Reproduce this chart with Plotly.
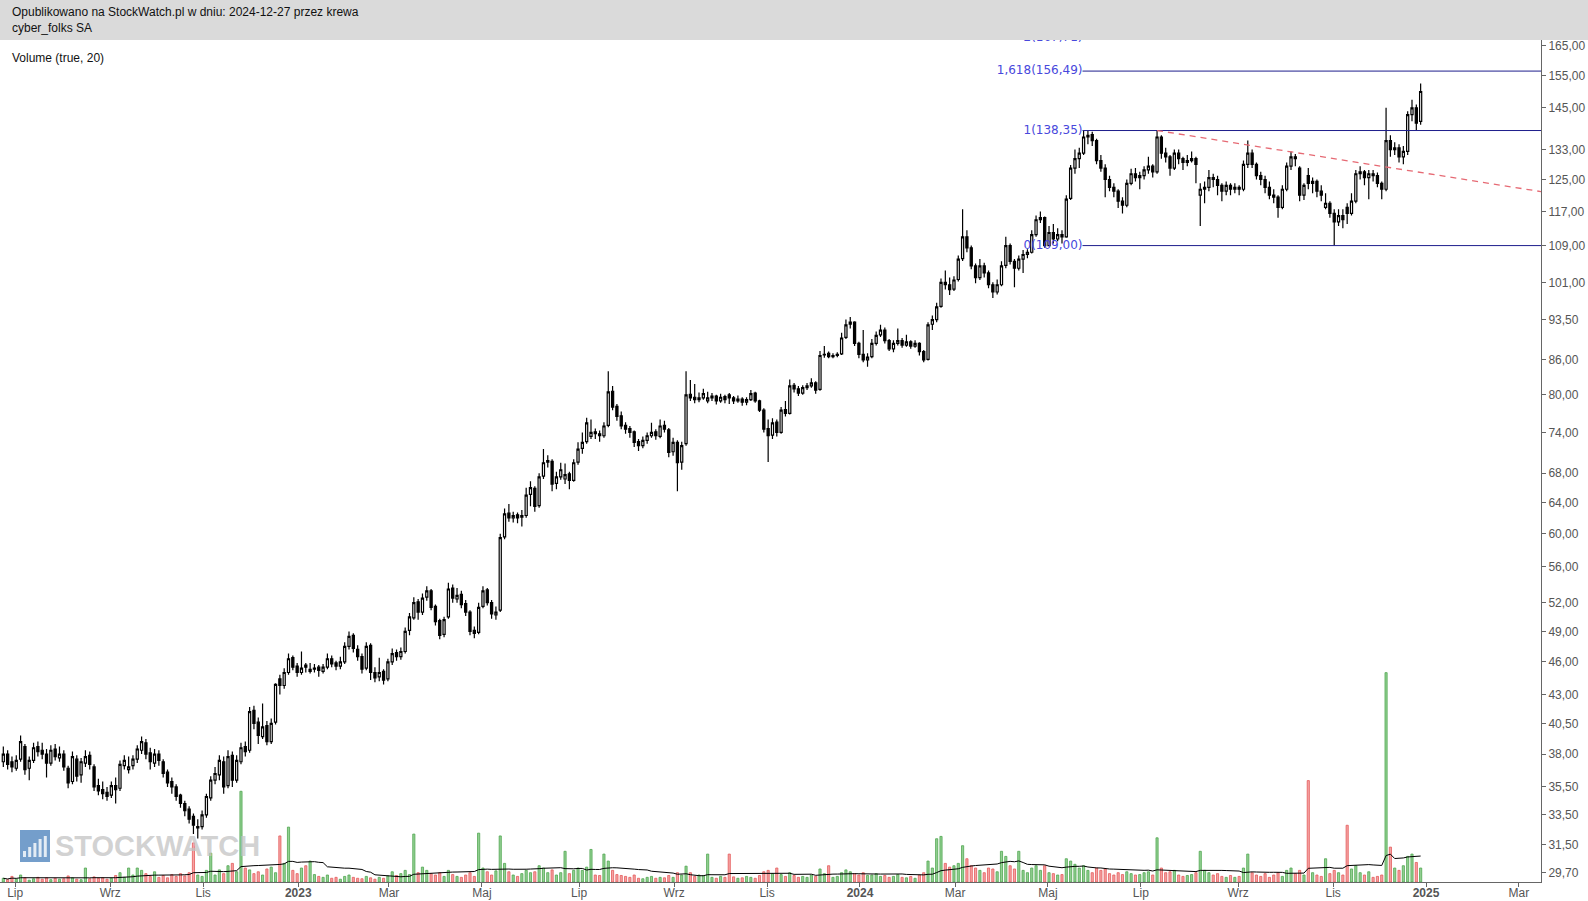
import numpy as np
import pandas as pd
import plotly.graph_objects as go

# ---------------- data ----------------
# one candle every second trading day, last one on 2024-12-27
dates = pd.bdate_range(end="2024-12-27", periods=657)[::2] + pd.Timedelta(hours=12)

opens = [
    37.4, 38.0, 37.4, 36.9, 37.6, 38.6, 36.9, 37.5, 38.6, 38.3,
    38.0, 37.3, 38.4, 37.7, 38.0, 36.9, 35.9, 37.6, 36.4, 37.3,
    37.9, 37.0, 35.6, 35.3, 35.1, 34.9, 35.6, 35.4, 37.1, 36.8,
    37.1, 37.6, 38.3, 38.9, 38.1, 37.3, 38.0, 37.4, 36.6, 35.9,
    35.5, 34.9, 34.3, 33.9, 33.4, 32.6, 32.7, 33.5, 34.7, 36.0,
    36.4, 37.4, 35.6, 37.9, 36.0, 37.4, 38.6, 38.3, 41.6, 40.6,
    39.4, 40.3, 39.0, 40.6, 44.4, 43.8, 45.0, 46.4, 45.6, 45.0,
    45.7, 45.1, 45.3, 45.5, 45.1, 45.5, 46.3, 45.9, 45.6, 46.0,
    47.5, 48.6, 47.2, 46.5, 45.4, 47.6, 45.0, 44.6, 45.1, 44.4,
    46.0, 46.9, 46.5, 47.0, 49.1, 50.4, 52.1, 51.0, 52.6, 53.3,
    51.6, 50.1, 48.7, 50.5, 53.6, 52.4, 52.9, 51.9, 51.0, 49.1,
    48.9, 51.6, 53.4, 52.0, 50.7, 51.2, 59.6, 62.6, 62.0, 62.4,
    62.1, 62.3, 65.1, 65.9, 63.6, 67.6, 69.6, 69.7, 66.6, 67.5,
    67.2, 67.9, 67.0, 69.6, 71.6, 72.6, 73.4, 74.1, 73.8, 73.5,
    75.1, 80.6, 78.1, 76.6, 75.1, 74.6, 74.1, 72.6, 72.0, 72.8,
    73.5, 74.1, 73.4, 75.1, 74.4, 71.1, 72.5, 69.6, 72.3, 80.1,
    79.6, 79.2, 79.5, 79.0, 79.5, 79.8, 79.0, 79.7, 80.0, 79.5,
    79.0, 79.3, 78.8, 79.2, 80.3, 79.0, 77.5, 74.6, 73.6, 75.6,
    74.0, 77.6, 77.0, 81.6, 81.0, 80.3, 81.2, 81.5, 82.0, 80.9,
    86.9, 87.2, 86.6, 86.8, 87.1, 90.1, 92.6, 93.0, 89.0, 87.0,
    86.0, 86.6, 89.0, 90.6, 91.5, 89.5, 88.0, 89.0, 89.5, 88.7,
    89.3, 88.5, 89.0, 87.5, 86.1, 92.6, 93.5, 96.1, 101.0, 100.5,
    99.6, 101.6, 106.1, 111.0, 108.5, 104.5, 102.0, 104.5, 103.0, 100.5,
    99.0, 100.5, 104.6, 109.0, 105.5, 104.0, 106.0, 107.0, 107.5, 111.5,
    115.0, 115.5, 109.0, 112.0, 110.5, 111.5, 111.0, 120.2, 128.0, 130.5,
    132.0, 136.5, 137.2, 135.5, 130.0, 128.0, 125.0, 123.0, 122.0, 119.5,
    118.5, 124.0, 126.5, 125.5, 126.0, 127.5, 128.5, 127.0, 136.5, 132.0,
    131.0, 128.0, 132.0, 130.5, 129.5, 130.0, 130.5, 121.0, 122.5, 123.0,
    125.5, 125.0, 123.5, 122.0, 123.5, 122.5, 123.0, 122.5, 129.0, 132.0,
    129.0, 126.0, 125.0, 123.0, 121.0, 120.5, 118.0, 122.5, 128.5, 131.0,
    128.0, 121.0, 126.0, 124.0, 124.5, 122.0, 118.0, 119.0, 116.5, 114.5,
    116.0, 118.0, 116.5, 119.5, 126.5, 127.0, 125.5, 126.5, 126.0, 124.0,
    122.5, 135.5, 133.0, 133.5, 131.0, 132.5, 143.0, 145.0, 141.0,
]

highs = [
    38.6, 38.3, 37.8, 37.9, 39.5, 38.8, 37.8, 38.9, 39.0, 38.9,
    38.4, 38.7, 38.8, 38.6, 38.3, 37.1, 38.2, 37.9, 37.7, 38.3,
    38.2, 37.2, 36.1, 35.9, 35.5, 35.9, 36.2, 37.5, 37.9, 37.8,
    37.9, 38.7, 39.4, 39.2, 38.5, 38.4, 38.3, 37.6, 36.8, 36.2,
    35.7, 35.0, 34.5, 34.1, 33.6, 33.2, 33.8, 35.0, 36.3, 37.0,
    37.9, 37.8, 38.3, 38.2, 37.9, 38.9, 39.0, 41.9, 42.0, 41.0,
    42.2, 40.7, 40.9, 44.0, 44.8, 45.4, 46.8, 46.6, 45.9, 47.0,
    45.9, 45.9, 45.8, 45.7, 45.8, 46.8, 46.6, 46.1, 46.5, 47.9,
    49.0, 48.8, 47.6, 46.8, 47.9, 47.8, 45.5, 46.4, 45.3, 46.3,
    47.3, 47.2, 47.4, 49.4, 50.9, 52.6, 52.4, 53.0, 53.8, 53.5,
    51.8, 50.3, 50.5, 54.2, 54.0, 53.6, 53.3, 52.3, 51.2, 49.5,
    52.0, 53.8, 53.6, 52.3, 51.6, 60.0, 63.2, 63.8, 62.8, 62.7,
    63.0, 66.0, 66.9, 66.2, 68.0, 71.5, 70.6, 70.0, 68.2, 69.5,
    69.4, 68.2, 70.0, 72.5, 74.0, 76.3, 76.0, 74.6, 74.3, 75.6,
    84.0, 81.5, 78.5, 77.3, 75.6, 75.0, 74.3, 73.0, 73.4, 74.0,
    75.5, 74.5, 76.0, 75.8, 74.7, 73.2, 72.8, 72.6, 84.0, 82.5,
    81.8, 80.4, 81.0, 80.5, 80.3, 80.0, 80.2, 80.0, 80.3, 79.8,
    79.9, 79.6, 79.6, 80.8, 80.5, 79.2, 77.8, 76.0, 76.2, 76.0,
    78.0, 79.0, 82.6, 82.0, 81.5, 81.6, 82.0, 82.8, 82.3, 87.6,
    88.5, 87.5, 87.2, 87.4, 91.0, 93.5, 94.0, 93.2, 89.3, 91.5,
    87.2, 89.8, 91.2, 92.5, 92.0, 89.8, 89.6, 91.8, 90.0, 90.6,
    89.6, 89.6, 89.2, 87.8, 93.0, 94.3, 96.8, 101.8, 103.5, 102.0,
    102.3, 106.8, 117.5, 112.5, 109.0, 105.0, 106.0, 105.2, 103.5, 101.0,
    101.6, 105.5, 111.0, 109.5, 106.0, 106.8, 108.0, 108.2, 112.5, 116.0,
    117.0, 115.8, 113.5, 114.0, 113.0, 112.5, 121.0, 128.8, 133.0, 133.5,
    138.35, 138.3, 138.0, 136.0, 131.5, 129.0, 126.0, 124.0, 122.5, 120.5,
    125.0, 127.8, 128.0, 127.0, 128.5, 131.0, 129.0, 138.3, 137.0, 133.5,
    131.5, 133.0, 133.0, 131.0, 131.5, 132.5, 131.0, 124.0, 124.5, 127.5,
    126.5, 126.0, 124.0, 124.5, 124.0, 124.0, 123.5, 130.0, 135.5, 133.0,
    129.5, 127.0, 126.0, 124.5, 122.5, 121.0, 123.5, 129.5, 132.5, 131.8,
    128.5, 124.0, 128.0, 125.5, 125.0, 123.5, 121.5, 119.5, 117.5, 117.5,
    117.5, 119.0, 121.5, 127.5, 128.5, 127.5, 127.5, 127.5, 126.8, 124.5,
    145.0, 137.0, 135.0, 134.5, 134.0, 144.0, 147.5, 146.0, 152.5,
]

lows = [
    37.0, 36.8, 36.6, 36.7, 37.4, 36.4, 36.0, 37.3, 37.8, 37.6,
    36.2, 37.1, 37.5, 37.4, 36.7, 35.4, 35.7, 35.9, 35.8, 37.0,
    36.8, 35.2, 34.9, 34.6, 34.5, 34.7, 34.3, 35.2, 36.8, 36.5,
    36.8, 37.3, 38.0, 37.6, 36.8, 37.0, 37.1, 36.2, 35.5, 35.0,
    34.5, 34.0, 33.4, 32.9, 32.2, 31.9, 32.5, 33.3, 34.5, 35.7,
    36.0, 35.0, 35.4, 35.5, 35.8, 37.2, 37.8, 38.1, 40.0, 38.8,
    39.2, 38.7, 38.8, 40.4, 43.0, 43.5, 44.8, 45.2, 44.6, 44.8,
    45.0, 44.9, 45.0, 44.6, 44.9, 45.3, 45.5, 45.2, 45.3, 45.8,
    47.2, 46.9, 46.1, 44.9, 45.2, 44.3, 44.1, 44.2, 43.9, 44.2,
    45.7, 46.1, 46.2, 46.8, 48.6, 50.2, 50.2, 50.7, 52.2, 51.2,
    49.6, 48.2, 48.4, 50.3, 52.0, 52.0, 51.4, 50.6, 48.6, 48.3,
    48.7, 51.4, 51.7, 50.3, 50.2, 51.0, 59.3, 61.5, 61.4, 61.3,
    60.9, 62.0, 63.5, 62.8, 63.3, 67.2, 68.8, 65.5, 65.8, 67.1,
    66.5, 65.8, 66.8, 69.2, 70.8, 72.3, 73.0, 73.0, 72.6, 73.2,
    74.8, 77.5, 75.8, 74.5, 73.8, 73.2, 71.8, 71.2, 71.6, 72.3,
    73.2, 72.9, 73.1, 74.0, 70.3, 70.5, 65.5, 68.5, 72.0, 79.0,
    78.6, 78.8, 79.2, 78.6, 79.0, 78.4, 78.7, 78.6, 78.5, 78.5,
    78.7, 78.2, 78.3, 79.0, 78.7, 77.2, 74.0, 69.6, 73.0, 73.4,
    73.8, 76.5, 76.8, 80.4, 79.8, 80.0, 80.8, 81.2, 80.2, 80.7,
    86.4, 86.3, 86.3, 86.5, 86.9, 89.8, 91.8, 88.5, 86.3, 85.6,
    84.8, 86.3, 88.6, 90.2, 89.0, 87.6, 87.4, 88.6, 88.2, 88.4,
    88.0, 88.2, 86.8, 85.6, 85.9, 91.5, 93.0, 95.8, 99.5, 98.4,
    99.2, 101.2, 105.6, 107.5, 103.8, 100.8, 101.5, 102.0, 99.8, 97.8,
    98.5, 100.2, 104.0, 104.8, 100.0, 103.5, 103.0, 106.2, 107.2, 111.0,
    114.2, 108.5, 109.0, 109.5, 110.0, 109.5, 110.8, 119.8, 126.5, 128.0,
    131.5, 134.5, 134.0, 129.0, 127.0, 120.5, 122.0, 120.5, 117.8, 116.5,
    118.0, 123.5, 124.5, 122.5, 125.0, 126.5, 125.5, 126.5, 130.5, 129.5,
    126.0, 127.5, 129.0, 127.5, 128.5, 129.5, 124.0, 113.5, 119.0, 122.0,
    123.0, 121.0, 119.5, 121.0, 121.0, 121.5, 121.0, 122.0, 128.0, 128.0,
    125.0, 123.5, 121.5, 120.0, 119.0, 115.5, 117.5, 122.0, 127.5, 128.5,
    119.5, 119.8, 122.5, 121.5, 120.5, 119.5, 117.5, 115.5, 109.0, 113.5,
    113.0, 114.0, 116.0, 119.0, 125.0, 123.5, 120.0, 124.5, 123.0, 120.0,
    122.0, 131.0, 131.5, 129.5, 129.0, 131.5, 141.0, 138.5, 140.0,
]

closes = [
    38.0, 37.2, 37.0, 37.5, 39.0, 36.8, 37.5, 38.5, 38.2, 38.0,
    37.3, 38.3, 37.8, 38.0, 37.0, 35.8, 37.8, 36.3, 37.4, 37.8,
    37.2, 35.5, 35.2, 35.0, 34.8, 35.6, 35.3, 37.2, 37.5, 37.0,
    37.6, 38.4, 39.0, 38.0, 37.4, 38.0, 37.5, 36.5, 35.8, 35.5,
    34.8, 34.3, 33.8, 33.2, 32.8, 32.7, 33.5, 34.8, 36.0, 36.5,
    37.5, 35.5, 37.8, 36.0, 37.5, 38.5, 38.2, 41.5, 40.5, 39.5,
    40.2, 39.0, 40.5, 43.9, 43.8, 45.0, 46.3, 45.5, 45.0, 45.4,
    45.5, 45.3, 45.4, 45.2, 45.5, 46.3, 45.8, 45.6, 46.0, 47.5,
    48.5, 47.3, 46.5, 45.3, 47.5, 45.0, 44.5, 45.0, 44.3, 46.0,
    46.8, 46.5, 47.0, 49.0, 50.5, 52.0, 51.0, 52.5, 53.3, 51.5,
    50.0, 48.6, 50.2, 53.5, 52.5, 52.8, 51.8, 51.0, 49.0, 48.8,
    51.5, 53.3, 52.0, 50.8, 51.0, 59.5, 62.5, 62.0, 62.3, 62.0,
    62.3, 65.0, 66.0, 63.5, 67.5, 69.5, 69.8, 66.5, 67.5, 68.5,
    67.8, 67.0, 69.5, 71.5, 72.5, 75.5, 74.0, 73.8, 73.5, 75.0,
    80.5, 78.0, 76.5, 75.0, 74.5, 74.0, 72.5, 72.0, 72.8, 73.5,
    74.0, 73.5, 75.0, 74.5, 71.0, 72.5, 69.5, 72.0, 80.0, 79.5,
    79.2, 79.5, 80.2, 79.5, 79.8, 79.0, 79.6, 79.2, 79.5, 79.0,
    79.3, 78.8, 79.2, 80.2, 79.0, 77.5, 74.5, 73.5, 75.5, 74.0,
    77.5, 77.0, 81.5, 81.0, 80.3, 81.2, 81.5, 82.0, 80.8, 86.8,
    87.0, 86.6, 86.8, 87.0, 90.0, 92.5, 93.0, 89.0, 87.0, 86.0,
    86.5, 89.0, 90.5, 91.5, 89.5, 88.0, 89.0, 89.5, 88.7, 89.3,
    88.5, 89.0, 87.5, 86.0, 92.5, 93.5, 96.0, 101.0, 100.5, 99.5,
    101.5, 106.0, 111.0, 108.5, 104.5, 102.0, 104.5, 103.0, 100.5, 99.0,
    100.5, 104.5, 109.0, 105.5, 104.0, 106.0, 107.0, 107.5, 111.5, 115.0,
    115.5, 109.0, 112.0, 110.5, 111.5, 111.0, 120.0, 128.0, 130.5, 132.0,
    136.5, 137.0, 135.5, 130.0, 128.0, 125.0, 123.0, 122.0, 119.5, 118.5,
    124.0, 126.5, 125.5, 126.0, 127.5, 128.5, 127.0, 136.5, 132.0, 131.0,
    128.0, 132.0, 130.5, 129.5, 130.0, 130.5, 129.0, 122.5, 123.0, 125.5,
    125.0, 123.5, 122.0, 123.5, 122.5, 123.0, 122.5, 129.0, 132.0, 129.0,
    126.0, 125.0, 123.0, 121.0, 120.5, 118.0, 122.5, 128.5, 131.0, 130.5,
    121.0, 123.5, 124.0, 124.5, 122.0, 121.0, 119.0, 116.5, 114.5, 116.0,
    115.0, 116.5, 119.5, 126.5, 127.0, 125.5, 126.5, 126.0, 124.0, 122.5,
    135.5, 133.0, 133.5, 131.0, 132.5, 143.0, 145.0, 140.5, 150.0,
]

volumes = [
    0.8, 0.5, 1.2, 0.6, 1.5, 0.9, 0.4, 0.7, 1.0, 0.6,
    0.9, 0.5, 0.8, 0.6, 0.7, 1.3, 0.9, 0.6, 0.5, 3.0,
    0.7, 1.1, 0.8, 0.9, 0.6, 0.8, 1.4, 2.0, 1.0, 3.0,
    1.5, 3.0, 2.5, 1.8, 1.2, 2.2, 1.0, 1.4, 0.9, 1.6,
    1.2, 1.8, 1.3, 2.0, 8.4, 1.5, 1.2, 2.5, 6.2, 1.5,
    2.6, 1.8, 3.5, 4.0, 2.2, 19.5, 3.0, 2.6, 1.8, 2.2,
    1.5, 2.8, 3.2, 2.0, 9.9, 4.0, 11.8, 2.5, 1.8, 3.0,
    3.5, 4.5, 1.6, 1.2, 1.0, 1.5, 0.8, 1.0, 0.6, 1.2,
    1.5, 1.0, 0.8, 0.7, 1.2, 0.9, 0.6, 1.0, 0.8, 1.3,
    2.2, 1.4, 1.8, 2.5, 1.6, 10.3, 2.0, 3.2, 2.5, 1.8,
    1.5, 2.0, 1.2, 2.5, 1.6, 1.2, 1.0, 1.5, 2.0, 1.2,
    10.5, 3.0, 2.2, 1.5, 2.4, 9.9, 4.0, 2.2, 1.5, 1.2,
    1.8, 2.5, 2.0, 2.2, 3.5, 3.0, 2.0, 2.6, 1.5, 2.0,
    6.6, 1.8, 2.5, 3.0, 2.5, 3.2, 7.0, 1.5, 1.4, 6.0,
    4.5, 2.5, 1.6, 1.4, 1.2, 1.0, 1.5, 0.8, 0.7, 1.0,
    1.2, 0.8, 1.0, 0.9, 1.4, 1.0, 2.0, 1.5, 3.4, 2.0,
    1.2, 1.5, 1.4, 6.0, 1.0, 0.8, 1.2, 1.0, 6.0, 1.1,
    0.8, 0.9, 1.2, 1.0, 0.8, 1.4, 2.2, 2.5, 1.8, 3.0,
    1.6, 1.2, 2.0, 1.4, 1.0, 1.2, 1.0, 1.5, 1.2, 2.8,
    1.8, 3.5, 1.0, 1.2, 2.0, 2.6, 2.2, 1.8, 1.5, 2.0,
    1.4, 1.5, 1.8, 1.2, 1.4, 1.0, 1.2, 1.6, 1.0, 0.9,
    1.2, 0.8, 1.5, 2.0, 4.5, 3.0, 9.3, 9.8, 4.0, 3.2,
    3.5, 4.0, 7.8, 5.0, 3.5, 3.0, 2.5, 2.0, 3.0, 2.8,
    2.2, 6.6, 5.5, 3.5, 2.8, 6.6, 2.5, 2.0, 3.0, 3.5,
    2.5, 3.5, 2.0, 1.8, 1.5, 1.6, 5.0, 4.5, 3.8, 3.0,
    3.5, 2.5, 2.0, 3.0, 2.5, 2.8, 1.8, 1.5, 2.0, 1.6,
    2.2, 1.8, 1.5, 1.6, 2.0, 2.2, 1.5, 9.5, 3.0, 2.0,
    2.2, 2.5, 1.5, 1.2, 1.4, 1.6, 2.0, 6.6, 2.5, 2.0,
    1.5, 1.8, 1.2, 1.0, 1.4, 1.0, 1.2, 3.0, 6.0, 2.0,
    1.5, 1.2, 1.8, 1.0, 1.5, 2.0, 1.2, 2.5, 3.0, 1.8,
    2.5, 1.5, 21.8, 2.0, 1.5, 1.2, 5.0, 1.8, 2.5, 2.0,
    1.5, 12.2, 2.8, 3.5, 2.0, 1.5, 2.2, 1.0, 1.2, 1.5,
    45.0, 7.5, 3.0, 2.5, 3.5, 5.5, 6.0, 4.2, 3.0,
]

ma_window = 20

# Fibonacci levels drawn from the May-2024 high
fib_levels = [0, 1, 1.618, 2]
fib_prices = [109.00, 138.35, 156.49, 167.71]
fib_start_index = 250

# dashed resistance line (from the July-2024 high)
trend_start_index = 267
trend_prices = [138.35, 121.9]

y_tick_values = [165, 155, 145, 133, 125, 117, 109, 101, 93.5, 86, 80, 74, 68,
                 64, 60, 56, 52, 49, 46, 43, 40.5, 38, 35.5, 33.5, 31.5, 29.7]
x_tick_dates = ["2022-07-01", "2022-09-01", "2022-11-01", "2023-01-01", "2023-03-01",
                "2023-05-01", "2023-07-01", "2023-09-01", "2023-11-01", "2024-01-01",
                "2024-03-01", "2024-05-01", "2024-07-01", "2024-09-01", "2024-11-01",
                "2025-01-01", "2025-03-01"]
x_tick_labels = ["Lip", "Wrz", "Lis", "<b>2023</b>", "Mar", "Maj", "Lip", "Wrz", "Lis",
                 "<b>2024</b>", "Mar", "Maj", "Lip", "Wrz", "Lis", "<b>2025</b>", "Mar"]

assert len(opens) == len(highs) == len(lows) == len(closes) == len(volumes) == len(dates)

# ---------------- figure ----------------
W, H = 1588, 901
ML, MR, MT, MB = 0, 47, 40, 19
PW, PH = W - ML - MR, H - MT - MB

x_left = pd.Timestamp("2022-06-21 23:10")
x_right = pd.Timestamp("2025-03-17 05:00")


def px_x(px):
    return (px - ML) / PW


def px_y(py):
    return (H - MB - py) / PH


def pl(v):
    return f"{v:.2f}".replace(".", ",")


tick_pos = [pd.Timestamp(np.busday_offset(np.datetime64(d), 0, roll="forward")) for d in x_tick_dates]

fig = go.Figure()

fib_text = [f"{l:g}".replace(".", ",") + f"({pl(p)})" for l, p in zip(fib_levels, fib_prices)]
fib_x0 = dates[fib_start_index] - pd.Timedelta(hours=12)
fig.add_trace(go.Scatter(
    x=[fib_x0] * len(fib_prices), y=fib_prices, mode="text", text=fib_text,
    textposition="middle left", cliponaxis=True, hoverinfo="skip",
    textfont=dict(family="DejaVu Sans", size=12, color="#4848dc")))
for p in fib_prices:
    fig.add_trace(go.Scatter(x=[fib_x0, x_right], y=[p, p], mode="lines",
                             line=dict(color="#1e1e8c", width=1), hoverinfo="skip"))

fig.add_trace(go.Scatter(
    x=[dates[trend_start_index], x_right], y=trend_prices, mode="lines",
    line=dict(color="#e66a74", width=1.3, dash="6px,5px"), hoverinfo="skip"))

fig.add_trace(go.Candlestick(
    x=dates, open=opens, high=highs, low=lows, close=closes,
    increasing=dict(line=dict(color="black", width=1.2), fillcolor="white"),
    decreasing=dict(line=dict(color="black", width=1.2), fillcolor="black"),
    whiskerwidth=0, hoverinfo="skip"))

up = [c >= o for o, c in zip(opens, closes)]
vol_fill = ["#93d193" if u else "#f5a3a3" for u in up]
vol_edge = ["#4fa64f" if u else "#e55a5a" for u in up]
fig.add_trace(go.Bar(
    x=dates, y=volumes, yaxis="y2", width=86400000 * 1.0,
    marker=dict(color=vol_fill, line=dict(color=vol_edge, width=0.8)), hoverinfo="skip"))
vol_ma = pd.Series(volumes).rolling(ma_window, min_periods=1).mean()
fig.add_trace(go.Scatter(x=dates, y=vol_ma, yaxis="y2", mode="lines",
                         line=dict(color="black", width=1), hoverinfo="skip"))

axis_font = dict(family="Liberation Sans, Arial, sans-serif", size=12, color="#555555")

fig.update_layout(
    width=W, height=H,
    margin=dict(l=ML, r=MR, t=MT, b=MB, autoexpand=False),
    paper_bgcolor="white", plot_bgcolor="white",
    showlegend=False,
    xaxis=dict(
        range=[x_left, x_right], rangebreaks=[dict(bounds=["sat", "mon"])],
        rangeslider=dict(visible=False),
        tickmode="array", tickvals=tick_pos, ticktext=x_tick_labels,
        ticks="outside", ticklen=4, tickcolor="#666666", ticklabelstandoff=-4,
        showline=True, linecolor="#666666", linewidth=1,
        showgrid=False, zeroline=False, tickfont=axis_font, automargin=False),
    yaxis=dict(
        type="log", range=[np.log10(29.15), np.log10(166.9)], side="right",
        tickmode="array", tickvals=y_tick_values, ticktext=[pl(v) for v in y_tick_values],
        ticks="outside", ticklen=4, tickcolor="#666666",
        showline=True, linecolor="#666666", linewidth=1,
        showgrid=False, zeroline=False, tickfont=axis_font, automargin=False),
    yaxis2=dict(overlaying="y", anchor="x", range=[0, 181], visible=False),
)

shapes = [
    dict(type="rect", xref="paper", yref="paper", x0=px_x(0), x1=px_x(W), y0=px_y(40), y1=px_y(0),
         fillcolor="#dadada", line=dict(width=0), layer="above"),
    dict(type="rect", xref="paper", yref="paper", x0=px_x(20), x1=px_x(50), y0=px_y(862), y1=px_y(830),
         fillcolor="rgba(70,125,185,0.75)", line=dict(width=0), layer="above"),
]
for i, top in enumerate([851, 847, 843, 839, 836]):
    x0 = 23 + i * 5.2
    shapes.append(dict(type="rect", xref="paper", yref="paper", x0=px_x(x0), x1=px_x(x0 + 3),
                       y0=px_y(857), y1=px_y(top), fillcolor="rgba(255,255,255,0.8)",
                       line=dict(width=0), layer="above"))
fig.update_layout(shapes=shapes)

hdr_font = dict(family="Liberation Sans, Arial, sans-serif", size=12, color="#111111")
fig.add_annotation(xref="paper", yref="paper", x=px_x(10), y=px_y(12.5), xanchor="left", yanchor="middle",
                   text="Opublikowano na StockWatch.pl w dniu: 2024-12-27 przez krewa",
                   showarrow=False, font=hdr_font)
fig.add_annotation(xref="paper", yref="paper", x=px_x(10), y=px_y(28), xanchor="left", yanchor="middle",
                   text="cyber_folks SA", showarrow=False, font=hdr_font)
fig.add_annotation(xref="paper", yref="paper", x=px_x(10), y=px_y(58), xanchor="left", yanchor="middle",
                   text="Volume (true, 20)", showarrow=False, font=hdr_font)
fig.add_annotation(xref="paper", yref="paper", x=px_x(53), y=px_y(846), xanchor="left", yanchor="middle",
                   text="<b>STOCKWATCH</b>", showarrow=False,
                   font=dict(family="Liberation Sans, Arial, sans-serif", size=29,
                             color="rgba(195,195,195,0.75)"))

fig.write_html(
    "out.html",
    config={"displayModeBar": False},
    post_script="document.body.style.margin='0px';document.body.style.overflow='hidden';",
)
